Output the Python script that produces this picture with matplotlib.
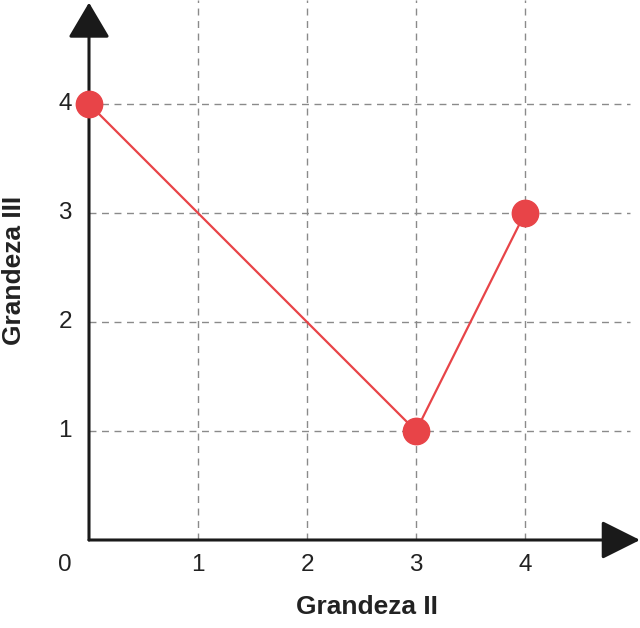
import numpy as np
import matplotlib.pyplot as plt

plt.rcParams['font.family'] = ['Liberation Sans', 'DejaVu Sans']

grandeza_2 = [0, 3, 4]
grandeza_3 = [4, 1, 3]
xticks = [1, 2, 3, 4]
yticks = [1, 2, 3, 4]

fig = plt.figure(figsize=(6.4, 6.28), dpi=100)
ax = fig.add_axes([89/640, 88/628, 551/640, 540/628])
ax.set_xlim(0, 5.055)
ax.set_ylim(0, 4.954)
for s in ax.spines.values():
    s.set_visible(False)
ax.set_xticks([])
ax.set_yticks([])

# dashed grid
for x in xticks:
    ax.axvline(x, color='#8a8a8a', lw=1, dashes=(5, 4), zorder=1)
for y in yticks:
    ax.plot([0, 4.96], [y, y], color='#8a8a8a', lw=1, dashes=(5, 4), zorder=1)

# axes with arrows
ax.annotate('', xy=(5.055, 0), xytext=(0, 0), annotation_clip=False,
            arrowprops=dict(arrowstyle='-|>,head_length=1.2,head_width=0.6',
                            color='#1a1a1a', lw=2.2, mutation_scale=20, shrinkA=0, shrinkB=0))
ax.annotate('', xy=(0, 4.93), xytext=(0, 0), annotation_clip=False,
            arrowprops=dict(arrowstyle='-|>,head_length=1.1,head_width=0.65',
                            color='#1a1a1a', lw=2.2, mutation_scale=20, shrinkA=0, shrinkB=0))

ax.plot(grandeza_2, grandeza_3, color='#e84448', lw=1.6, marker='o', ms=19,
        clip_on=False, zorder=5)

for x in xticks:
    ax.text(x, -0.23, str(x), ha='center', va='center', fontsize=17.5, color='#222222')
for y in yticks:
    ax.text(-0.22, y, str(y), ha='center', va='center', fontsize=17.5, color='#222222')
ax.text(-0.22, -0.23, '0', ha='center', va='center', fontsize=17.5, color='#222222')

fig.text(367/640, 1 - 607/628, 'Grandeza II', ha='center', va='center',
         fontsize=19, fontweight='bold', color='#222222')
fig.text(14/640, 1 - 270/628, 'Grandeza III', ha='center', va='center',
         fontsize=19, fontweight='bold', rotation=90, color='#222222')

fig.savefig('out.png', dpi=100)
